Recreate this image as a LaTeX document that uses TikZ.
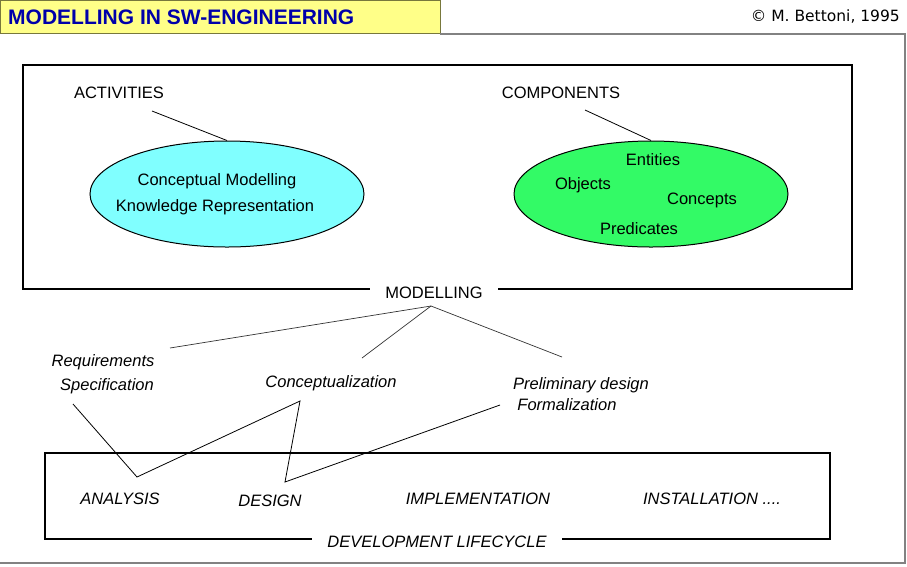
\documentclass[tikz,border=0pt]{standalone}
\usepackage{fontspec}
\setmainfont{Liberation Sans}
\newfontfamily\notefont{DejaVu Sans}
\usepackage{xcolor}
\usepackage{tikz}
\usetikzlibrary{shapes.geometric, positioning, calc}
\definecolor{titleyellow}{RGB}{255, 255, 136}
\definecolor{titleolive}{RGB}{120, 120, 60}
\definecolor{titleblue}{RGB}{0, 0, 170}
\definecolor{actcyan}{RGB}{128, 255, 255}
\definecolor{compgreen}{RGB}{51, 250, 102}
\definecolor{framegray}{RGB}{130, 130, 130}

\tikzset{
    lbl/.style={inner sep=0pt, font=\fontsize{16.5}{19}\selectfont},
    phase/.style={inner sep=0pt, font=\fontsize{16.5}{19}\selectfont\itshape},
    blob/.style={ellipse, draw=black, line width=1pt, minimum width=274pt, minimum height=106pt},
    gapnode/.style={fill=white, inner xsep=15pt, inner ysep=2pt, font=\fontsize{16.5}{19}\selectfont},
    link/.style={black, line width=0.8pt}
}

\begin{document}
\begin{tikzpicture}[x=1pt, y=-1pt]
    \useasboundingbox (0,0) rectangle (907,566);

    % Title bar and outer frame
    \draw[titleolive, fill=titleyellow, line width=1pt] (0,0.5) rectangle (440,33);
    \node[inner sep=0pt, anchor=west, titleblue, font=\fontsize{21}{24}\selectfont\bfseries]
        (title) at (8,17) {MODELLING IN SW-ENGINEERING};
    \node[inner sep=0pt, anchor=east, font=\fontsize{15.5}{18}\notefont]
        (author) at (900,17) {© M. Bettoni, 1995};
    \draw[framegray, line width=1.2pt] (440,34) -- (905,34) -- (905,563) -- (0,563);

    % --- MODELLING BOX ---
    \draw[black, line width=1.2pt] (23,65) rectangle (852,289);
    \node[gapnode] (model) at (434,293) {MODELLING};

    % Activities
    \node[lbl] (act) at (119,93) {ACTIVITIES};
    \node[blob, fill=actcyan] (actell) at (227,194) {};
    \node[lbl] (cm) at (217,181) {Conceptual Modelling};
    \node[lbl] (kr) at (215,207) {Knowledge Representation};
    \coordinate (actfoot) at (152,111);
    \draw[link] (actfoot) -- (actell.north);

    % Components
    \node[lbl] (comp) at (561,93) {COMPONENTS};
    \node[blob, fill=compgreen] (compell) at (651,194) {};
    \node[lbl] (ent) at (653,160) {Entities};
    \node[lbl] (obj) at (583,185) {Objects};
    \node[lbl] (conc) at (702,200) {Concepts};
    \node[lbl] (pred) at (639,229) {Predicates};
    \coordinate (compfoot) at (585,110);
    \draw[link] (compfoot) -- (compell.north);

    % Modelling in the phases
    \coordinate (fork) at (431,306);
    \node[phase] (req) at (103,362) {Requirements};
    \node[phase] (spec) at (107,386) {Specification};
    \node[phase] (concz) at (331,383) {Conceptualization};
    \node[phase] (prel) at (581,385) {Preliminary design};
    \node[phase] (form) at (567,405) {Formalization};
    \coordinate (reqtop) at (170,348);
    \coordinate (conctop) at (362,358);
    \coordinate (preltop) at (562,357);
    \foreach \t in {reqtop, conctop, preltop} {
        \draw[black!80, line width=0.7pt] (fork) -- (\t);
    }

    % --- DEVELOPMENT LIFECYCLE BOX ---
    \draw[black, line width=1.2pt] (45,453) rectangle (830,539);
    \node[gapnode, font=\fontsize{16.5}{19}\selectfont\itshape] (life) at (437,542) {DEVELOPMENT LIFECYCLE};
    \node[phase] (ana) at (120,499) {ANALYSIS};
    \node[phase] (des) at (270,501) {DESIGN};
    \node[phase] (impl) at (478,499) {IMPLEMENTATION};
    \node[phase] (inst) at (712,499) {INSTALLATION ....};

    % Zigzag between phases
    \coordinate (specfoot) at (73,404);
    \coordinate (anatip) at (137,477);
    \coordinate (concfoot) at (300,401);
    \coordinate (destip) at (285,482);
    \coordinate (formfoot) at (500,405);
    \draw[link, line join=miter] (specfoot) -- (anatip) -- (concfoot) -- (destip) -- (formfoot);
\end{tikzpicture}
\end{document}
